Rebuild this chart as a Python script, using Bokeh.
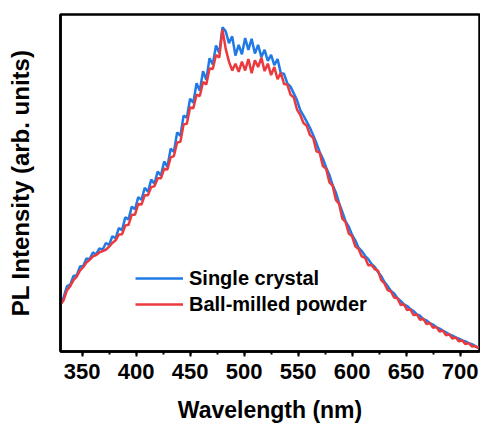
from bokeh.plotting import figure
from bokeh.models import Range1d, SingleIntervalTicker, FixedTicker, Legend, LegendItem
from bokeh.embed import file_html
from bokeh.resources import INLINE

wavelength = list(range(330, 718, 3))

single_crystal = [
    0.139, 0.162, 0.194, 0.198, 0.224, 0.226, 0.252, 0.254, 0.276, 0.274,
    0.294, 0.288, 0.306, 0.302, 0.322, 0.316, 0.342, 0.336, 0.366, 0.360,
    0.398, 0.392, 0.430, 0.422, 0.458, 0.450, 0.486, 0.474, 0.510, 0.498,
    0.534, 0.522, 0.564, 0.548, 0.602, 0.592, 0.650, 0.640, 0.700, 0.694,
    0.750, 0.738, 0.796, 0.774, 0.832, 0.806, 0.870, 0.852, 0.908, 0.886,
    0.962, 0.950, 0.915, 0.935, 0.878, 0.910, 0.882, 0.930, 0.895, 0.928,
    0.884, 0.910, 0.874, 0.895, 0.862, 0.880, 0.850, 0.868, 0.826, 0.824,
    0.796, 0.786, 0.766, 0.746, 0.716, 0.700, 0.682, 0.664, 0.642, 0.618,
    0.592, 0.572, 0.546, 0.524, 0.494, 0.472, 0.440, 0.414, 0.386, 0.370,
    0.346, 0.330, 0.308, 0.298, 0.284, 0.274, 0.260, 0.251, 0.236, 0.224,
    0.206, 0.194, 0.180, 0.172, 0.158, 0.150, 0.140, 0.135, 0.126, 0.120,
    0.110, 0.106, 0.096, 0.092, 0.084, 0.080, 0.072, 0.068, 0.062, 0.057,
    0.051, 0.047, 0.042, 0.038, 0.033, 0.030, 0.025, 0.022, 0.016, 0.011,
]

ball_milled = [
    0.139, 0.153, 0.182, 0.194, 0.212, 0.222, 0.240, 0.250, 0.264, 0.272,
    0.282, 0.286, 0.294, 0.298, 0.302, 0.311, 0.322, 0.330, 0.347, 0.348,
    0.374, 0.376, 0.406, 0.406, 0.438, 0.436, 0.464, 0.464, 0.488, 0.490,
    0.514, 0.514, 0.542, 0.540, 0.576, 0.580, 0.620, 0.622, 0.674, 0.676,
    0.724, 0.722, 0.762, 0.758, 0.800, 0.792, 0.840, 0.838, 0.880, 0.872,
    0.955, 0.898, 0.860, 0.834, 0.854, 0.830, 0.860, 0.834, 0.868, 0.826,
    0.864, 0.844, 0.872, 0.832, 0.854, 0.820, 0.844, 0.808, 0.827, 0.794,
    0.792, 0.762, 0.754, 0.718, 0.702, 0.678, 0.670, 0.642, 0.634, 0.594,
    0.590, 0.550, 0.542, 0.502, 0.492, 0.450, 0.438, 0.394, 0.384, 0.350,
    0.342, 0.312, 0.304, 0.282, 0.278, 0.256, 0.257, 0.244, 0.240, 0.212,
    0.202, 0.182, 0.178, 0.160, 0.158, 0.138, 0.140, 0.123, 0.125, 0.108,
    0.110, 0.094, 0.097, 0.081, 0.085, 0.070, 0.073, 0.059, 0.062, 0.048,
    0.051, 0.038, 0.042, 0.030, 0.033, 0.022, 0.025, 0.015, 0.016, 0.010,
]

series_names = ["Single crystal", "Ball-milled powder"]
series_colors = ["#1f7ae6", "#eb3a3e"]

FONT = "Liberation Sans"

p = figure(width=480, height=425, output_backend="svg", toolbar_location=None,
           x_range=Range1d(330, 718), y_range=Range1d(0, 1),
           min_border_left=60, min_border_right=1, min_border_top=14, min_border_bottom=73)

p.background_fill_color = "white"
p.border_fill_color = "white"
p.outline_line_color = "black"
p.outline_line_width = 2.5
p.xgrid.visible = False
p.ygrid.visible = False

r1 = p.line(wavelength, single_crystal, line_color=series_colors[0], line_width=2.5)
r2 = p.line(wavelength, ball_milled, line_color=series_colors[1], line_width=2.5)

xa = p.xaxis[0]
xa.ticker = SingleIntervalTicker(interval=50, num_minor_ticks=2)
xa.axis_line_color = "black"
xa.axis_line_width = 2.5
xa.major_tick_in = 0
xa.major_tick_out = 5
xa.minor_tick_in = 0
xa.minor_tick_out = 3
xa.major_tick_line_width = 2
xa.minor_tick_line_width = 2
xa.major_label_text_font = FONT
xa.major_label_text_font_style = "bold"
xa.major_label_text_font_size = "22px"
xa.major_label_text_color = "black"
xa.major_label_standoff = 7
xa.axis_label = "Wavelength (nm)"
xa.axis_label_text_font = FONT
xa.axis_label_text_font_style = "bold"
xa.axis_label_text_font_size = "23px"
xa.axis_label_text_color = "black"
xa.axis_label_standoff = 15

ya = p.yaxis[0]
ya.ticker = FixedTicker(ticks=[])
ya.axis_line_color = "black"
ya.axis_line_width = 2.5
ya.major_tick_out = 0
ya.major_tick_in = 0
ya.minor_tick_out = 0
ya.minor_tick_in = 0
ya.major_label_text_font_size = "0px"
ya.axis_label = "PL Intensity (arb. units)"
ya.axis_label_text_font = FONT
ya.axis_label_text_font_style = "bold"
ya.axis_label_text_font_size = "24px"
ya.axis_label_text_color = "black"
ya.axis_label_standoff = 27

legend = Legend(items=[LegendItem(label=series_names[0], renderers=[r1]),
                       LegendItem(label=series_names[1], renderers=[r2])],
                location=(75, 34), orientation="vertical",
                border_line_color=None, background_fill_alpha=0,
                padding=0, margin=0, spacing=0,
                glyph_width=48, glyph_height=26, label_height=26,
                label_standoff=6,
                label_text_font=FONT, label_text_font_style="bold",
                label_text_font_size="20px", label_text_color="black")
p.add_layout(legend, "center")

open("out.html", "w").write(file_html(p, INLINE))
